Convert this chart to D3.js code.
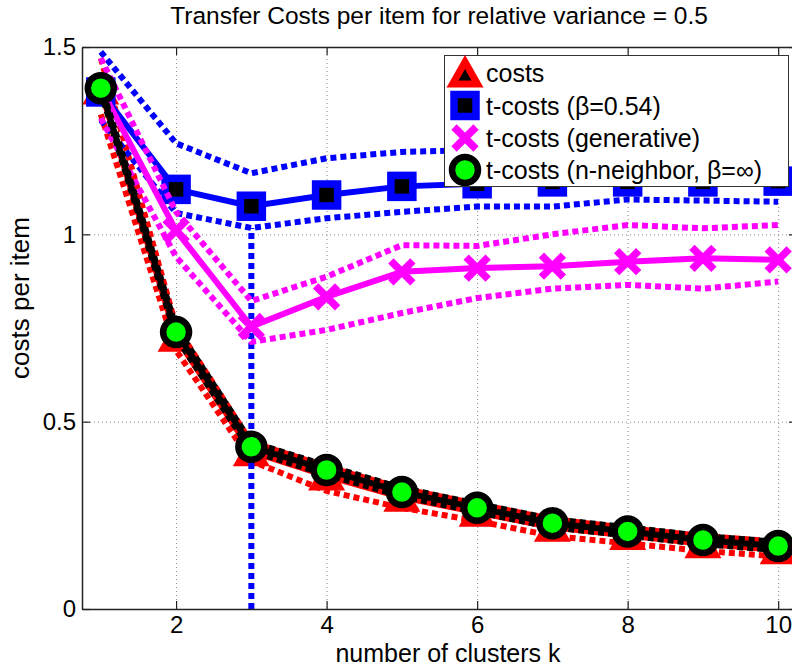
<!DOCTYPE html>
<html>
<head>
<meta charset="utf-8">
<script src="https://cdn.jsdelivr.net/npm/d3@7"></script>
<style>
  body { margin: 0; background: #fff; }
  svg { display: block; font-family: "Liberation Sans", Arial, sans-serif; }
</style>
</head>
<body>
<div id="chart"></div>
<script>
// number of clusters k
var clusters = [1, 2, 3, 4, 5, 6, 7, 8, 9, 10];

// costs (mean and the dotted band around it)
var costsMean = [1.385, 0.725, 0.42, 0.355, 0.298, 0.258, 0.218, 0.196, 0.174, 0.158];
var costsHi   = [1.47, 0.755, 0.445, 0.38, 0.322, 0.28, 0.24, 0.216, 0.195, 0.18];
var costsLo   = [1.32, 0.69, 0.395, 0.315, 0.27, 0.235, 0.195, 0.175, 0.155, 0.14];

// t-costs (beta = 0.54)
var betaMean = [1.38, 1.12, 1.075, 1.105, 1.128, 1.135, 1.14, 1.14, 1.14, 1.142];
var betaHi   = [1.487, 1.243, 1.163, 1.203, 1.22, 1.225, 1.23, 1.235, 1.235, 1.24];
var betaLo   = [1.305, 1.057, 1.017, 1.043, 1.06, 1.074, 1.074, 1.093, 1.09, 1.087];

// t-costs (generative)
var genMean = [1.39, 1.01, 0.754, 0.833, 0.90, 0.91, 0.915, 0.927, 0.936, 0.932];
var genHi   = [1.47, 1.06, 0.822, 0.887, 0.971, 0.969, 1.0, 1.025, 1.016, 1.025];
var genLo   = [1.31, 0.94, 0.713, 0.745, 0.79, 0.83, 0.855, 0.865, 0.855, 0.874];

// t-costs (n-neighbor, beta = inf)
var nnMean = [1.39, 0.739, 0.433, 0.371, 0.312, 0.27, 0.229, 0.207, 0.184, 0.168];
var nnHi   = [1.40, 0.752, 0.445, 0.383, 0.323, 0.281, 0.24, 0.218, 0.195, 0.179];
var nnLo   = [1.38, 0.726, 0.421, 0.359, 0.301, 0.259, 0.218, 0.196, 0.173, 0.157];

// chosen k (vertical marker line)
var chosenK = 3;

var xTicks = [2, 4, 6, 8, 10];
var yTicks = [0, 0.5, 1, 1.5];
var xDomain = [0.75, 10.25];
var yDomain = [0, 1.5];

var legendLabels = ["costs", "t-costs (\u03b2=0.54)", "t-costs (generative)", "t-costs (n-neighbor, \u03b2=\u221e)"];

var series = [
    { name: legendLabels[0], color: "#ff0000", mean: costsMean, hi: costsHi, lo: costsLo, marker: "triangle" },
    { name: legendLabels[1], color: "#0000ff", mean: betaMean, hi: betaHi, lo: betaLo, marker: "square" },
    { name: legendLabels[2], color: "#ff00ff", mean: genMean, hi: genHi, lo: genLo, marker: "cross" },
    { name: legendLabels[3], color: "#000000", mean: nnMean, hi: nnHi, lo: nnLo, marker: "circle" }
];

var width = 792, height = 668;
var plot = { left: 82, right: 797, top: 47, bottom: 609 };

var svg = d3.select("#chart").append("svg")
    .attr("width", width)
    .attr("height", height);

var x = d3.scaleLinear().domain(xDomain).range([plot.left, plot.right]);
var y = d3.scaleLinear().domain(yDomain).range([plot.bottom, plot.top]);

svg.append("defs").append("clipPath")
    .attr("id", "plot-clip")
    .append("rect")
    .attr("x", plot.left)
    .attr("y", plot.top)
    .attr("width", plot.right - plot.left)
    .attr("height", plot.bottom - plot.top);

// grid
var grid = svg.append("g").attr("class", "grid")
    .attr("stroke", "#888")
    .attr("stroke-width", 1)
    .attr("stroke-dasharray", "1,3");

grid.selectAll(".gx")
    .data(xTicks)
    .enter()
    .append("line")
    .attr("x1", function (d) { return x(d) + 0.5; })
    .attr("x2", function (d) { return x(d) + 0.5; })
    .attr("y1", plot.top)
    .attr("y2", plot.bottom);

grid.selectAll(".gy")
    .data(yTicks.filter(function (d) { return d > 0 && d < 1.5; }))
    .enter()
    .append("line")
    .attr("x1", plot.left)
    .attr("x2", plot.right)
    .attr("y1", function (d) { return y(d) + 0.5; })
    .attr("y2", function (d) { return y(d) + 0.5; });

// data layer
var layer = svg.append("g").attr("clip-path", "url(#plot-clip)");

var line = d3.line()
    .x(function (d) { return x(d[0]); })
    .y(function (d) { return y(d[1]); });

function pairs(values) {
    return clusters.map(function (k, i) { return [k, values[i]]; });
}

function drawMarker(g, type, color, cx, cy) {
    if (type === "triangle") {
        var w = 25, h = 22;
        g.append("path")
            .attr("d", "M" + cx + "," + (cy - h / 2) + "L" + (cx + w / 2) + "," + (cy + h / 2) + "L" + (cx - w / 2) + "," + (cy + h / 2) + "Z")
            .attr("fill", "#000")
            .attr("stroke", color)
            .attr("stroke-width", 7)
            .attr("stroke-linejoin", "miter");
    } else if (type === "square") {
        var s = 22;
        g.append("rect")
            .attr("x", cx - s / 2)
            .attr("y", cy - s / 2)
            .attr("width", s)
            .attr("height", s)
            .attr("fill", "#000")
            .attr("stroke", color)
            .attr("stroke-width", 7.5);
    } else if (type === "cross") {
        var r = 11;
        g.append("path")
            .attr("d", "M" + (cx - r) + "," + (cy - r) + "L" + (cx + r) + "," + (cy + r) + "M" + (cx - r) + "," + (cy + r) + "L" + (cx + r) + "," + (cy - r))
            .attr("fill", "none")
            .attr("stroke", color)
            .attr("stroke-width", 7.5);
    } else {
        g.append("circle")
            .attr("cx", cx)
            .attr("cy", cy)
            .attr("r", 13)
            .attr("fill", "#00ff00")
            .attr("stroke", "#000")
            .attr("stroke-width", 6.5);
    }
}

series.forEach(function (s, si) {
    var g = layer.append("g");

    [s.lo, s.hi].forEach(function (band) {
        g.append("path")
            .datum(pairs(band))
            .attr("d", line)
            .attr("fill", "none")
            .attr("stroke", s.color)
            .attr("stroke-width", 6)
            .attr("stroke-dasharray", "6,4");
    });

    if (si === 1) {
        var ci = clusters.indexOf(chosenK);
        g.append("line")
            .attr("x1", x(chosenK))
            .attr("x2", x(chosenK))
            .attr("y1", y(0))
            .attr("y2", y(s.lo[ci]))
            .attr("stroke", s.color)
            .attr("stroke-width", 6)
            .attr("stroke-dasharray", "6,4");
    }

    g.append("path")
        .datum(pairs(s.mean))
        .attr("d", line)
        .attr("fill", "none")
        .attr("stroke", s.color)
        .attr("stroke-width", 6)
        .attr("stroke-linejoin", "round");

    pairs(s.mean).forEach(function (p) {
        drawMarker(g, s.marker, s.color, x(p[0]), y(p[1]));
    });
});

// axes
var axisColor = "#222";

var xAxis = svg.append("g")
    .attr("transform", "translate(0," + plot.bottom + ")")
    .call(d3.axisBottom(x).tickValues(xTicks).tickSizeInner(-8).tickSizeOuter(0).tickPadding(7)
        .tickFormat(function (d) { return d; }));

var xTop = svg.append("g")
    .attr("transform", "translate(0," + plot.top + ")")
    .call(d3.axisTop(x).tickValues(xTicks).tickSizeInner(-8).tickSizeOuter(0).tickFormat(""));

var yAxis = svg.append("g")
    .attr("transform", "translate(" + plot.left + ",0)")
    .call(d3.axisLeft(y).tickValues(yTicks).tickSizeInner(-8).tickSizeOuter(0).tickPadding(6)
        .tickFormat(function (d) { return d; }));

var yRight = svg.append("g")
    .attr("transform", "translate(" + plot.right + ",0)")
    .call(d3.axisRight(y).tickValues(yTicks).tickSizeInner(-8).tickSizeOuter(0).tickFormat(""));

[xAxis, xTop, yAxis, yRight].forEach(function (a) {
    a.select(".domain").attr("stroke", axisColor).attr("stroke-width", 1.5);
    a.selectAll(".tick line").attr("stroke", axisColor).attr("stroke-width", 1.2);
    a.selectAll(".tick text")
        .attr("fill", "#000")
        .style("font-size", "24px")
        .style("font-family", "'Liberation Sans', Arial, sans-serif");
});

// title and labels
svg.append("text")
    .attr("x", 439)
    .attr("y", 24)
    .attr("text-anchor", "middle")
    .style("font-size", "24.5px")
    .text("Transfer Costs per item for relative variance = 0.5");

svg.append("text")
    .attr("x", 448)
    .attr("y", 662)
    .attr("text-anchor", "middle")
    .style("font-size", "25px")
    .text("number of clusters k");

svg.append("text")
    .attr("transform", "translate(29,298) rotate(-90)")
    .attr("text-anchor", "middle")
    .style("font-size", "26px")
    .text("costs per item");

// legend
var legend = svg.append("g").attr("class", "legend");

legend.append("rect")
    .attr("x", 444.5)
    .attr("y", 55.5)
    .attr("width", 344)
    .attr("height", 131)
    .attr("fill", "#fff")
    .attr("stroke", "#333")
    .attr("stroke-width", 1);

var rowY = [73, 105.5, 138, 170];

series.forEach(function (s, i) {
    var row = legend.append("g");
    drawMarker(row, s.marker, s.color, 465, rowY[i]);
    row.append("text")
        .attr("x", 486)
        .attr("y", rowY[i])
        .attr("dy", "0.36em")
        .style("font-size", "25px")
        .text(s.name);
});
</script>
</body>
</html>
